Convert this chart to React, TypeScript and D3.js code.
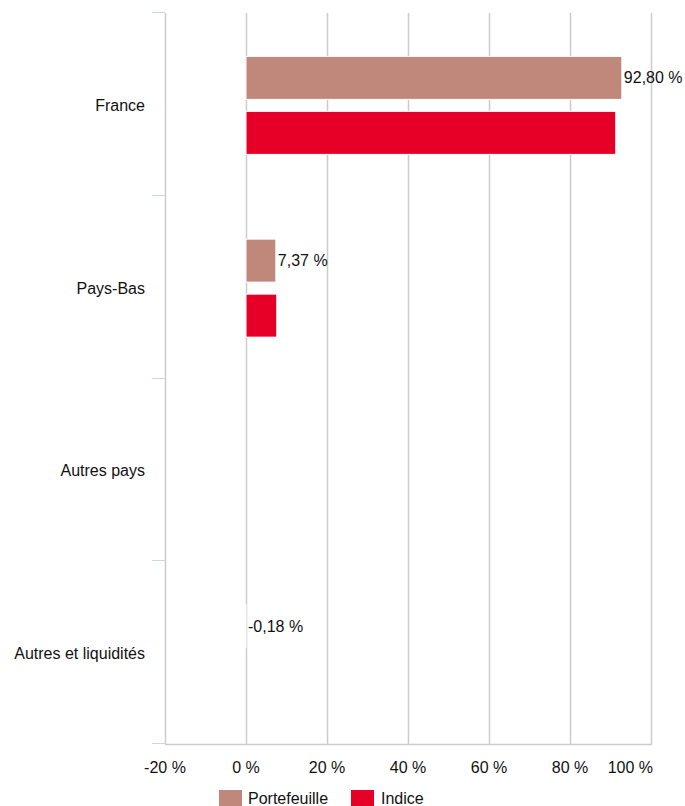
import React from "react";
import * as d3 from "d3";

const categories = ["France", "Pays-Bas", "Autres pays", "Autres et liquidités"];
const portefeuille: (number | null)[] = [92.8, 7.37, null, -0.18];
const indice: (number | null)[] = [91.3, 7.6, null, null];
const ticks = [-20, 0, 20, 40, 60, 80, 100];
const seriesNames = ["Portefeuille", "Indice"];
const seriesColors = ["#BF887A", "#E60028"];

const W = 685;
const H = 806;
const FONT = "'Liberation Sans', Arial, Helvetica, sans-serif";

const fmt = (v: number) => v.toFixed(2).replace(".", ",") + " %";

export default function App() {
  const x = d3.scaleLinear().domain([-20, 100]).range([165, 651]);
  const y = d3.scaleBand<string>().domain(categories).range([14, 745]).paddingInner(0).paddingOuter(0);
  const barH = 43;
  const gap = 12;
  const series = [portefeuille, indice];
  const top = 13;
  const bottom = 744;

  return (
    <svg width={W} height={H} style={{ position: "absolute", left: 0, top: 0, display: "block", background: "#fff" }} fontFamily={FONT}>
      {/* gridlines */}
      {ticks.map((t) => (
        <line key={"g" + t} x1={Math.round(x(t)) + 0.5} x2={Math.round(x(t)) + 0.5} y1={top} y2={bottom} stroke="#cccccc" strokeWidth={1.5} />
      ))}
      {/* bottom line */}
      <line x1={x(-20)} x2={x(100) + 1} y1={bottom + 0.5} y2={bottom + 0.5} stroke="#cccccc" strokeWidth={1.5} />
      {/* category ticks */}
      {[...categories.map((c) => y(c) as number), 745].map((v, i) => (
        <line key={"t" + i} x1={152} x2={165} y1={Math.round(v) - 1.5} y2={Math.round(v) - 1.5} stroke="#ccd6eb" strokeWidth={1} />
      ))}
      {/* bars */}
      {categories.map((c, ci) => {
        const cy = (y(c) as number) + y.bandwidth() / 2;
        return series.map((s, si) => {
          const v = s[ci];
          if (v === null) return null;
          const yy = cy - (barH * 2 + gap) / 2 + si * (barH + gap);
          const x0 = x(Math.min(0, v));
          const x1 = x(Math.max(0, v));
          return (
            <rect key={c + si} x={x0} y={yy} width={Math.max(x1 - x0, 0.5)} height={barH} fill={seriesColors[si]} stroke="#ffffff" strokeWidth={1} />
          );
        });
      })}
      {/* data labels for Portefeuille */}
      {categories.map((c, ci) => {
        const v = portefeuille[ci];
        if (v === null) return null;
        const cy = (y(c) as number) + y.bandwidth() / 2;
        const yy = cy - (barH * 2 + gap) / 2 + barH / 2;
        return (
          <text key={"l" + c} x={x(Math.max(0, v)) + 2} y={yy} dy="0.35em" fontSize={16} fill="#111">
            {fmt(v)}
          </text>
        );
      })}
      {/* category labels */}
      {categories.map((c) => (
        <text key={"c" + c} x={145} y={(y(c) as number) + y.bandwidth() / 2} dy="0.35em" textAnchor="end" fontSize={16} fill="#111">
          {c}
        </text>
      ))}
      {/* x tick labels */}
      {ticks.map((t, i) => (
        <text
          key={"x" + t}
          x={i === ticks.length - 1 ? x(t) + 2 : x(t)}
          y={767}
          dy="0.35em"
          textAnchor={i === ticks.length - 1 ? "end" : "middle"}
          fontSize={16}
          fill="#111"
        >
          {t + " %"}
        </text>
      ))}
      {/* legend */}
      <rect x={219} y={790} width={23} height={16} fill={seriesColors[0]} />
      <text x={248} y={798} dy="0.35em" fontSize={16} fill="#111">{seriesNames[0]}</text>
      <rect x={351} y={790} width={23} height={16} fill={seriesColors[1]} />
      <text x={381} y={798} dy="0.35em" fontSize={16} fill="#111">{seriesNames[1]}</text>
    </svg>
  );
}
